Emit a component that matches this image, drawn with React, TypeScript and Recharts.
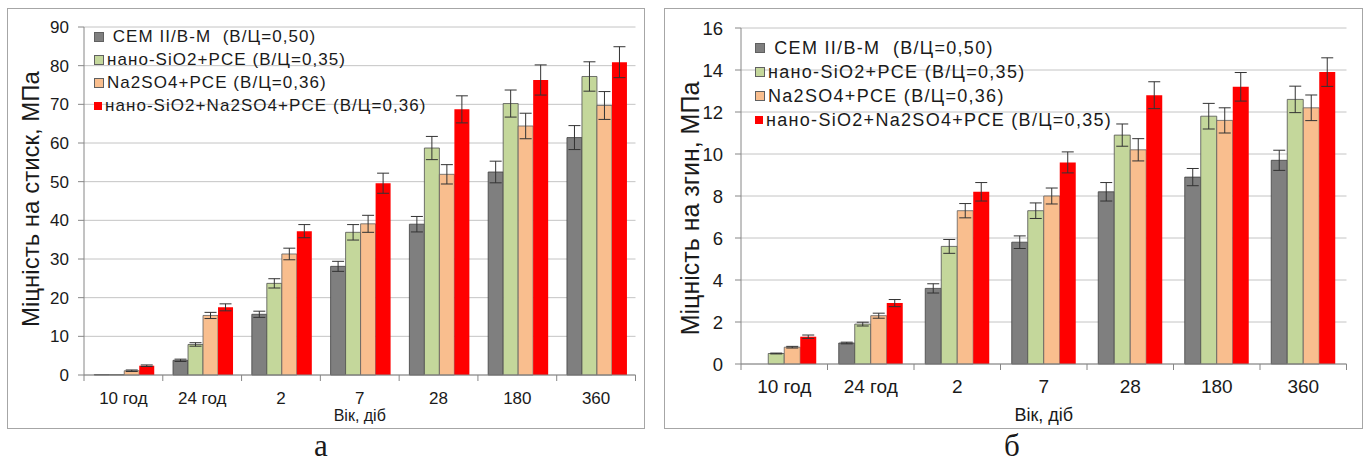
import { BarChart, Bar, XAxis, YAxis, CartesianGrid, Legend, ErrorBar, Label } from 'recharts';

const ages = ['10 год', '24 год', '2', '7', '28', '180', '360'];

const seriesNames = [
  ' CEM II/B-M  (В/Ц=0,50)',
  'нано-SiO2+PCE (В/Ц=0,35)',
  'Na2SO4+PCE (В/Ц=0,36)',
];
const comboNameA = 'нано-SiO2+Na2SO4+PCE (В/Ц=0,36)';
const comboNameB = 'нано-SiO2+Na2SO4+PCE (В/Ц=0,35)';

// міцність на стиск, МПа
const compCem = [0.1, 3.8, 15.7, 28.1, 39.0, 52.5, 61.4];
const compNano = [0.1, 7.9, 23.7, 36.9, 58.7, 70.2, 77.2];
const compNa = [1.1, 15.4, 31.3, 39.1, 51.9, 64.4, 69.7];
const compCombo = [2.4, 17.5, 37.2, 49.6, 68.7, 76.3, 80.9];
const compCemErr = [0, 0.3, 0.8, 1.3, 2.0, 2.8, 3.1];
const compNanoErr = [0, 0.45, 1.2, 2.0, 3.0, 3.5, 3.8];
const compNaErr = [0.2, 0.8, 1.5, 2.2, 2.5, 3.3, 3.6];
const compComboErr = [0.2, 0.9, 1.7, 2.6, 3.5, 3.9, 4.0];
const compTicks = [0, 10, 20, 30, 40, 50, 60, 70, 80, 90];

// міцність на згин, МПа
const flexCem = [0, 1.0, 3.6, 5.8, 8.2, 8.9, 9.7];
const flexNano = [0.5, 1.9, 5.6, 7.3, 10.9, 11.8, 12.6];
const flexNa = [0.8, 2.3, 7.3, 8.0, 10.2, 11.6, 12.2];
const flexCombo = [1.3, 2.9, 8.2, 9.6, 12.8, 13.2, 13.9];
const flexCemErr = [0, 0.04, 0.22, 0.3, 0.44, 0.41, 0.48];
const flexNanoErr = [0.02, 0.09, 0.33, 0.37, 0.53, 0.61, 0.63];
const flexNaErr = [0.04, 0.12, 0.34, 0.38, 0.53, 0.6, 0.61];
const flexComboErr = [0.08, 0.17, 0.44, 0.5, 0.64, 0.68, 0.68];
const flexTicks = [0, 2, 4, 6, 8, 10, 12, 14, 16];

const FONT = '"Liberation Sans", Arial, sans-serif';
const SERIF = '"Liberation Serif", "Times New Roman", serif';
const AXIS = '#868686';
const INK = '#1a1a1a';
const TICK_SIZE = 6;
const X_TICK_MARGIN = 10;

const colors = ['#7f7f7f', '#c4d79b', '#f9be8e', '#ff0000'];
const strokes = ['#404040', '#505050', '#606060', '#ff0000'];

function makeRows(v: number[][]) {
  return ages.map((age, i) => ({
    age,
    s0: v[0][i], s1: v[1][i], s2: v[2][i], s3: v[3][i],
    e0: v[4][i], e1: v[5][i], e2: v[6][i], e3: v[7][i],
  }));
}

const compData = makeRows([compCem, compNano, compNa, compCombo, compCemErr, compNanoErr, compNaErr, compComboErr]);
const flexData = makeRows([flexCem, flexNano, flexNa, flexCombo, flexCemErr, flexNanoErr, flexNaErr, flexComboErr]);

function AgeTick(props: any) {
  const { x, y, payload, index, fontSize, labelOffset, half } = props;
  const h = typeof payload?.offset === 'number' && payload.offset > 0 ? payload.offset : half;
  const axisY = y - TICK_SIZE - X_TICK_MARGIN;
  return (
    <g>
      <line x1={x - h} x2={x - h} y1={axisY} y2={axisY + 6} stroke={AXIS} />
      {index === ages.length - 1 && <line x1={x + h} x2={x + h} y1={axisY} y2={axisY + 6} stroke={AXIS} />}
      <text x={x} y={axisY + labelOffset} textAnchor="middle" dominantBaseline="central"
        fontSize={fontSize} fontFamily={FONT} fill={INK}>
        {payload.value}
      </text>
    </g>
  );
}

function LegendBox({ payload, fontSize, spacing, rowHeight }: any) {
  // keep series order (s0..s3), not alphabetical
  const items = [...(payload || [])].sort((a: any, b: any) => String(a.dataKey).localeCompare(String(b.dataKey)));
  return (
    <div style={{ fontFamily: FONT, fontSize, letterSpacing: spacing, color: INK }}>
      {items.map((p: any) => (
        <div key={p.value} style={{ display: 'flex', alignItems: 'center', height: rowHeight, whiteSpace: 'pre' }}>
          <span style={{
            display: 'inline-block', width: 8, height: 8, marginRight: 3, background: p.color,
            border: p.color === '#ff0000' ? 'none' : '1px solid #606060',
          }} />
          <span>{p.value}</span>
        </div>
      ))}
    </div>
  );
}

type PanelProps = {
  data: any[];
  names: string[];
  max: number;
  ticks: number[];
  width: number;
  margin: { top: number; right: number; left: number; bottom: number };
  yTitle: string;
  yTitleX: number;
  yTitleY: number;
  yTitleSize: number;
  yTickSize: number;
  yTickMargin: number;
  xTickSize: number;
  xTickOffset: number;
  xTitleOffset: number;
  xTitleSize: number;
  legendPos: { left: number; top: number };
  legendFont: number;
  legendSpacing: number;
  legendRow: number;
};

function Panel(p: PanelProps) {
  const half = (p.width - 76 - p.margin.right) / ages.length / 2;
  return (
    <BarChart width={p.width} height={420} data={p.data} margin={p.margin} barGap={0} barCategoryGap="13%">
      <CartesianGrid vertical={false} stroke="#c4c4c4" strokeWidth={1} />
      <XAxis
        dataKey="age"
        stroke={AXIS}
        tickLine={false}
        tickSize={TICK_SIZE}
        tickMargin={X_TICK_MARGIN}
        height={30}
        interval={0}
        tick={(t: any) => <AgeTick {...t} fontSize={p.xTickSize} labelOffset={p.xTickOffset} half={half} />}
      >
        <Label
          content={({ viewBox }: any) => (
            <text x={viewBox.x + viewBox.width / 2} y={viewBox.y + p.xTitleOffset} textAnchor="middle"
              dominantBaseline="central" fontSize={p.xTitleSize} fontFamily={FONT} fill={INK}>
              Вік, діб
            </text>
          )}
        />
      </XAxis>
      <YAxis
        width={76}
        domain={[0, p.max]}
        ticks={p.ticks}
        interval={0}
        stroke={AXIS}
        tickSize={TICK_SIZE}
        tickMargin={p.yTickMargin}
        tick={{ fontSize: p.yTickSize, fontFamily: FONT, fill: INK }}
      >
        <Label
          content={() => (
            <text x={p.yTitleX} y={p.yTitleY} textAnchor="middle" dominantBaseline="central"
              transform={`rotate(-90 ${p.yTitleX} ${p.yTitleY})`}
              fontSize={p.yTitleSize} fontFamily={FONT} fill={INK}>
              {p.yTitle}
            </text>
          )}
        />
      </YAxis>
      <Legend
        layout="vertical"
        align="center"
        verticalAlign="middle"
        wrapperStyle={{ left: p.legendPos.left, top: p.legendPos.top, width: 'auto' }}
        content={(lp: any) => (
          <LegendBox payload={lp.payload} fontSize={p.legendFont} spacing={p.legendSpacing} rowHeight={p.legendRow} />
        )}
      />
      {[0, 1, 2, 3].map((k) => (
        <Bar key={k} dataKey={`s${k}`} name={p.names[k]} fill={colors[k]} stroke={strokes[k]}
          strokeWidth={k === 3 ? 0 : 0.8} isAnimationActive={false}>
          <ErrorBar dataKey={`e${k}`} width={6} stroke="#333333" strokeWidth={1} isAnimationActive={false} />
        </Bar>
      ))}
    </BarChart>
  );
}

const captionStyle = {
  position: 'absolute' as const,
  top: 431,
  transform: 'translateX(-50%)',
  fontFamily: SERIF,
  fontSize: 31,
  lineHeight: '30px',
  color: INK,
};

export default function App() {
  return (
    <div style={{ position: 'absolute', left: 0, top: 0, width: 1368, height: 463, background: '#fff', fontFamily: FONT }}>
      <div style={{ position: 'absolute', left: 7, top: 8, width: 636, height: 419, border: '1.5px solid #a6a6a6' }} />
      <div style={{ position: 'absolute', left: 664, top: 8, width: 697, height: 419, border: '1.5px solid #a6a6a6' }} />
      <div style={{ position: 'absolute', left: 8, top: 8 }}>
        <Panel
          data={compData}
          names={[...seriesNames, comboNameA]}
          max={90}
          ticks={compTicks}
          width={636}
          margin={{ top: 19, right: 8.5, left: 0, bottom: 23 }}
          yTitle="Міцність на стиск, МПа"
          yTitleX={22.5}
          yTitleY={191}
          yTitleSize={24}
          yTickSize={17}
          yTickMargin={9}
          xTickSize={17}
          xTickOffset={23.3}
          xTitleOffset={40.3}
          xTitleSize={16}
          legendPos={{ left: 86, top: 17.5 }}
          legendFont={17}
          legendSpacing={1.05}
          legendRow={23}
        />
      </div>
      <div style={{ position: 'absolute', left: 665, top: 8 }}>
        <Panel
          data={flexData}
          names={[...seriesNames, comboNameB]}
          max={16}
          ticks={flexTicks}
          width={697}
          margin={{ top: 20, right: 15.5, left: 0, bottom: 34 }}
          yTitle="Міцність на згин, МПа"
          yTitleX={25}
          yTitleY={200.5}
          yTitleSize={25}
          yTickSize={18.5}
          yTickMargin={12}
          xTickSize={19}
          xTickOffset={22.7}
          xTitleOffset={51}
          xTitleSize={18}
          legendPos={{ left: 90, top: 28 }}
          legendFont={18}
          legendSpacing={1.3}
          legendRow={24}
        />
      </div>
      <div style={{ ...captionStyle, left: 321 }}>а</div>
      <div style={{ ...captionStyle, left: 1012 }}>б</div>
    </div>
  );
}
